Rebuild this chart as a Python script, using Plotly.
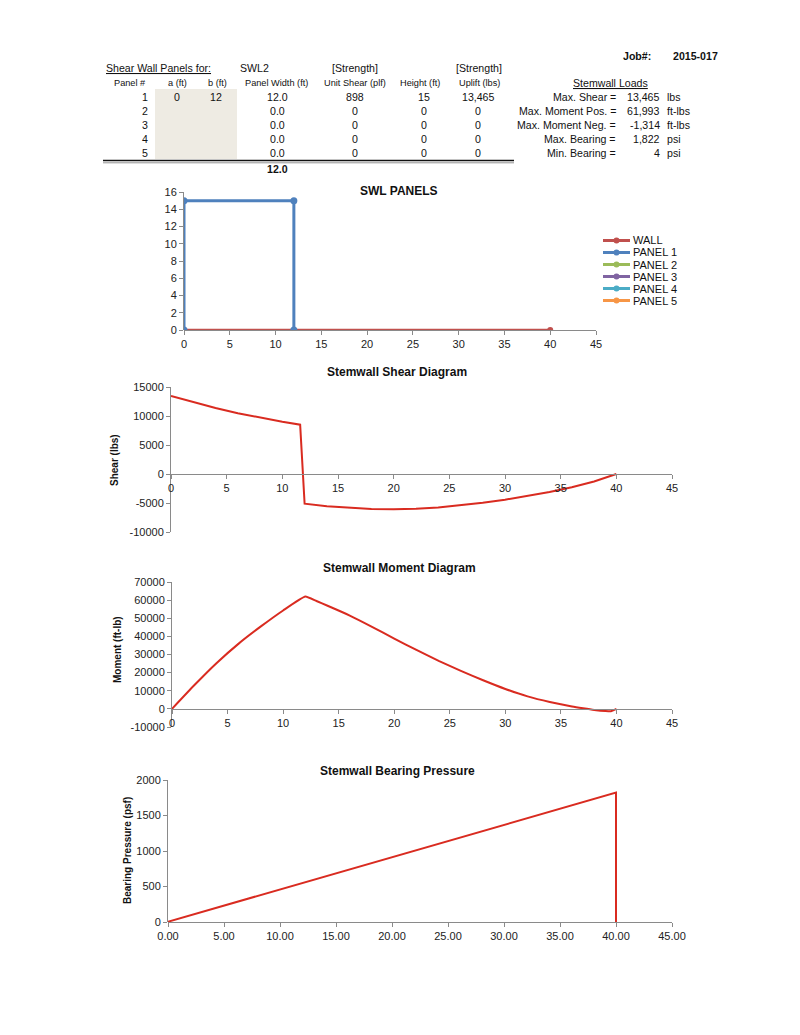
import plotly.graph_objects as go

# ---- table data (top left) ----
panel_num = [1, 2, 3, 4, 5]
panel_a = ["0", "", "", "", ""]
panel_b = ["12", "", "", "", ""]
panel_width = ["12.0", "0.0", "0.0", "0.0", "0.0"]
unit_shear = ["898", "0", "0", "0", "0"]
panel_height = ["15", "0", "0", "0", "0"]
uplift = ["13,465", "0", "0", "0", "0"]
width_total = "12.0"

# ---- stemwall loads (top right) ----
load_labels = ["Max. Shear =", "Max. Moment Pos. =", "Max. Moment Neg. =", "Max. Bearing =", "Min. Bearing ="]
load_values = ["13,465", "61,993", "-1,314", "1,822", "4"]
load_units = ["lbs", "ft-lbs", "ft-lbs", "psi", "psi"]
job_no = "2015-017"

# ---- SWL panels ----
wall_x = [0, 40]
wall_y = [0, 0]
panel1_x = [0, 0, 12, 12]
panel1_y = [0, 15, 15, 0]
legend_names = ["WALL", "PANEL 1", "PANEL 2", "PANEL 3", "PANEL 4", "PANEL 5"]
legend_colors = ["#c0504d", "#4f81bd", "#9bbb59", "#8064a2", "#4bacc6", "#f79646"]

# ---- shear diagram ----
shear_x = [0, 2, 4, 6, 8, 10, 11.6, 12, 14, 16, 18, 20, 22, 24, 26, 28, 30, 32, 34, 36, 38, 40]
shear_y = [13465, 12380, 11380, 10480, 9700, 9000, 8500, -5110, -5550, -5850, -6030, -6080,
           -6000, -5780, -5400, -4950, -4430, -3800, -3100, -2300, -1280, 0]
shear_ticks = [-10000, -5000, 0, 5000, 10000, 15000]
shear_ticktext = ["-10000", "-5000", "0", "5000", "10000", "15000"]

# ---- moment diagram ----
moment_x = [0, 2, 4, 6, 8, 10, 12, 13, 14, 16, 18, 20, 22, 24, 26, 28, 30, 32, 34, 36, 37, 38, 39, 39.5, 40]
moment_y = [0, 13000, 25200, 36000, 45500, 54300, 61993, 59500, 56900, 51500, 45300, 38800, 32500,
            26500, 21000, 15800, 11000, 6900, 3800, 1300, 300, -600, -1200, -1314, 0]
moment_ticks = [-10000, 0, 10000, 20000, 30000, 40000, 50000, 60000, 70000]
moment_ticktext = ["-10000", "0", "10000", "20000", "30000", "40000", "50000", "60000", "70000"]

# ---- bearing pressure ----
bearing_x = [0, 10, 20, 30, 40, 40]
bearing_y = [4, 458, 913, 1367, 1822, 0]

W, H = 800, 1035
FONT = "Liberation Sans, Arial, sans-serif"
RED = "#d92b20"
AXC = "#8a8a8a"


def px(x):
    return x / W


def py(y):
    return 1 - y / H


fig = go.Figure()

# chart boxes in pixels: (x_left, x_right), (y_top, y_bottom), y ranges
charts = [
    dict(xd=(184, 596), yd=(192, 330), yr=[0, 16], dy=2, fmt=None, tv=None, tt=None),
    dict(xd=(171, 672), yd=(387, 532), yr=[-10000, 15000], dy=5000, fmt=None, tv=shear_ticks, tt=shear_ticktext),
    dict(xd=(172, 672), yd=(582, 727), yr=[-10000, 70000], dy=10000, fmt=None, tv=moment_ticks, tt=moment_ticktext),
    dict(xd=(168, 672), yd=(780, 922), yr=[0, 2000], dy=500, fmt=".2f", tv=None, tt=None),
]

for i, c in enumerate(charts):
    n = "" if i == 0 else str(i + 1)
    ydom = [py(c["yd"][1]), py(c["yd"][0])]
    xdom = [px(c["xd"][0]), px(c["xd"][1])]
    pos = ydom[0] + (0 - c["yr"][0]) / (c["yr"][1] - c["yr"][0]) * (ydom[1] - ydom[0])
    yax = dict(domain=ydom, range=c["yr"], dtick=c["dy"], anchor="x" + n, tickformat="d",
               showgrid=False, zeroline=False, showline=True, linecolor=AXC, linewidth=1,
               ticks="outside", ticklen=4, tickcolor=AXC,
               tickfont=dict(size=11, color="#222"), fixedrange=True, automargin=False)
    if c["tv"] is not None:
        yax.update(tickmode="array", tickvals=c["tv"], ticktext=c["tt"])
    fig.update_layout(**{
        "xaxis" + n: dict(domain=xdom, range=[0, 45], dtick=5, tick0=0, anchor="free", position=pos,
                          showgrid=False, zeroline=False, showline=True, linecolor=AXC, linewidth=1,
                          ticks="outside", ticklen=4, tickcolor=AXC, tickformat=c["fmt"],
                          tickfont=dict(size=11, color="#222"), fixedrange=True, automargin=False),
        "yaxis" + n: yax,
    })

# SWL panels
fig.add_trace(go.Scatter(x=wall_x, y=wall_y, mode="lines+markers", name="WALL", showlegend=False,
                         line=dict(color=legend_colors[0], width=2.5), marker=dict(size=6)))
fig.add_trace(go.Scatter(x=panel1_x, y=panel1_y, mode="lines+markers", name="PANEL 1", showlegend=False,
                         line=dict(color=legend_colors[1], width=3), marker=dict(size=7)))

fig.add_trace(go.Scatter(x=shear_x, y=shear_y, mode="lines", xaxis="x2", yaxis="y2", showlegend=False,
                         line=dict(color=RED, width=2)))
fig.add_trace(go.Scatter(x=moment_x, y=moment_y, mode="lines", xaxis="x3", yaxis="y3", showlegend=False,
                         line=dict(color=RED, width=2, shape="spline", smoothing=0.4)))
fig.add_trace(go.Scatter(x=bearing_x, y=bearing_y, mode="lines", xaxis="x4", yaxis="y4", showlegend=False,
                         line=dict(color=RED, width=2)))

ann = []
shapes = []


def txt(x, y, s, size=10.6, anchor="center", bold=False, color="#111", angle=0):
    if bold:
        s = "<b>" + s + "</b>"
    ann.append(dict(x=px(x), y=py(y), xref="paper", yref="paper", text=s, showarrow=False,
                    xanchor=anchor, yanchor="middle", textangle=angle,
                    font=dict(family=FONT, size=size, color=color)))


# chart titles
txt(399, 191, "SWL PANELS", 12, bold=True)
txt(397, 372, "Stemwall Shear Diagram", 12, bold=True)
txt(399, 568, "Stemwall Moment Diagram", 12, bold=True)
txt(397, 771, "Stemwall Bearing Pressure", 12, bold=True)
txt(114, 460, "Shear (lbs)", 10, bold=True, angle=-90)
txt(117, 650, "Moment (ft-lb)", 10, bold=True, angle=-90)
txt(127, 851, "Bearing Pressure (psf)", 10, bold=True, angle=-90)

# legend of the SWL chart (Excel style, tight spacing)
for k, (nm, col) in enumerate(zip(legend_names, legend_colors)):
    ly = 240.5 + 12 * k
    shapes.append(dict(type="line", xref="paper", yref="paper", x0=px(603), x1=px(630), y0=py(ly), y1=py(ly),
                       line=dict(color=col, width=3)))
    shapes.append(dict(type="circle", xref="paper", yref="paper", x0=px(613.5), x1=px(619.5),
                       y0=py(ly + 3), y1=py(ly - 3), fillcolor=col, line=dict(color=col, width=0)))
    txt(631, ly, nm, 11, anchor="left")

# panel table
txt(104, 68, "<u>Shear Wall Panels for:</u>", anchor="left")
txt(238, 68, "SWL2", anchor="left")
txt(355, 68, "[Strength]")
txt(479, 68, "[Strength]")
headers = ["Panel #", "a (ft)", "b (ft)", "Panel Width (ft)", "Unit Shear (plf)", "Height (ft)", "Uplift (lbs)"]
hx = [130, 177, 217, 276, 355, 420, 479]
for h, x in zip(headers, hx):
    txt(x, 83, h, 9.2)
row_y = [97, 111, 125, 139, 153]
for k in range(5):
    y = row_y[k]
    txt(150, y, str(panel_num[k]), anchor="right")
    txt(177, y, panel_a[k])
    txt(216, y, panel_b[k])
    txt(277, y, panel_width[k])
    txt(355, y, unit_shear[k])
    txt(424, y, panel_height[k])
    txt(478, y, uplift[k])
txt(277, 169, width_total, bold=True)

# loads summary
txt(637, 56, "Job#:", bold=True)
txt(695, 56, job_no, bold=True)
txt(610, 83, "<u>Stemwall Loads</u>")
for k in range(5):
    y = row_y[k]
    txt(618, y, load_labels[k], anchor="right")
    txt(662, y, load_values[k], anchor="right")
    txt(665, y, load_units[k], anchor="left")

shapes += [
    dict(type="rect", xref="paper", yref="paper", x0=px(155), x1=px(237), y0=py(159), y1=py(89),
         fillcolor="#eeebe3", line=dict(width=0), layer="below"),
    dict(type="line", xref="paper", yref="paper", x0=px(103), x1=px(514), y0=py(160.5), y1=py(160.5),
         line=dict(color="#111", width=1.6)),
    dict(type="line", xref="paper", yref="paper", x0=px(103), x1=px(514), y0=py(162.8), y1=py(162.8),
         line=dict(color="#777", width=0.8)),
]

fig.update_layout(
    width=W, height=H, margin=dict(l=0, r=0, t=0, b=0, autoexpand=False),
    paper_bgcolor="white", plot_bgcolor="white",
    font=dict(family=FONT, size=11, color="#111"),
    annotations=ann, shapes=shapes, showlegend=False,
)

fig.write_html("out.html", config={"displayModeBar": False},
               post_script="document.body.style.margin='0px';")
